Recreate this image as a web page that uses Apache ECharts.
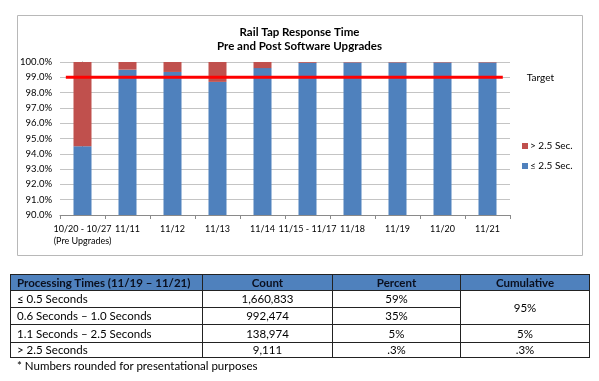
<!DOCTYPE html>
<html>
<head>
<meta charset="utf-8">
<script src="https://cdn.jsdelivr.net/npm/echarts@6/dist/echarts.min.js"></script>
<style>
  html, body { margin: 0; padding: 0; background: #fff; }
  #chart { position: absolute; left: 0; top: 0; width: 599px; height: 381px; }
  #tbl { position: absolute; left: 10px; top: 274px; width: 579px; border-collapse: collapse;
         font-family: Lato, "Open Sans", sans-serif; font-size: 11.5px; color: #000; table-layout: fixed; }
  #tbl td, #tbl th { border: 1px solid #222; padding: 0; line-height: 14px; }
  #tbl th { background: #4F81BD; font-weight: bold; color: #0a0f1e; height: 15px; text-align: center; }
  #tbl th.l, #tbl td.l { text-align: left; padding-left: 6px; }
  #tbl td { text-align: center; }
  #note { position: absolute; left: 17px; top: 359px; font-family: Lato, "Open Sans", sans-serif; font-size: 11.5px; color: #000; }
</style>
</head>
<body>
<div id="chart"></div>
<table id="tbl">
  <colgroup><col style="width:192px"><col style="width:130px"><col style="width:128px"><col style="width:129px"></colgroup>
  <thead id="thead"></thead>
  <tbody id="tbody"></tbody>
</table>
<div id="note">* Numbers rounded for presentational purposes</div>
<script>
// ---- chart data ----
const categories = ['10/20 - 10/27\n(Pre Upgrades)', '11/11', '11/12', '11/13', '11/14', '11/15 - 11/17', '11/18', '11/19', '11/20', '11/21'];
const under25 = [94.5, 99.5, 99.35, 98.7, 99.6, 99.95, 99.97, 99.97, 99.97, 99.97];
const over25 = under25.map(v => +(100 - v).toFixed(2));
const target = 99.0;
const yTicks = [90, 91, 92, 93, 94, 95, 96, 97, 98, 99, 100];

// ---- table data ----
const tableHeader = ['Processing Times (11/19 \u2013 11/21)', 'Count', 'Percent', 'Cumulative'];
const tableRanges = ['\u2264 0.5 Seconds', '0.6 Seconds \u2013 1.0 Seconds', '1.1 Seconds \u2013 2.5 Seconds', '> 2.5 Seconds'];
const tableCounts = ['1,660,833', '992,474', '138,974', '9,111'];
const tablePercents = ['59%', '35%', '5%', '.3%'];
const tableCumulative = ['95%', null, '5%', '.3%'];
const rowHeights = [17, 17, 18, 15];

// build table
const thead = document.getElementById('thead');
thead.innerHTML = '<tr>' + tableHeader.map((h, i) => `<th class="${i === 0 ? 'l' : ''}">${h}</th>`).join('') + '</tr>';
const tbody = document.getElementById('tbody');
let html = '';
tableRanges.forEach((r, i) => {
  html += `<tr style="height:${rowHeights[i]}px"><td class="l">${r}</td><td>${tableCounts[i]}</td><td>${tablePercents[i]}</td>`;
  if (i === 0) html += `<td rowspan="2">${tableCumulative[0]}</td>`;
  else if (tableCumulative[i] !== null) html += `<td>${tableCumulative[i]}</td>`;
  html += '</tr>';
});
tbody.innerHTML = html;

const FONT = 'Lato, "Open Sans", sans-serif';
const chart = echarts.init(document.getElementById('chart'), null, { renderer: 'canvas' });
chart.setOption({
  animation: false,
  textStyle: { fontFamily: FONT },
  graphic: [
    { type: 'rect', shape: { x: 17.5, y: 15.5, width: 565, height: 240 }, style: { fill: 'none', stroke: '#b8b8b8', lineWidth: 1 }, z: -10 },
    { type: 'text', left: 'center', top: 26, style: { text: 'Rail Tap Response Time', font: 'bold 11.5px ' + FONT, fill: '#000' } },
    { type: 'text', left: 'center', top: 40, style: { text: 'Pre and Post Software Upgrades', font: 'bold 11.5px ' + FONT, fill: '#000' } }
  ],
  legend: {
    orient: 'vertical', left: 517, top: 136,
    data: ['> 2.5 Sec.', '\u2264 2.5 Sec.'],
    itemWidth: 6, itemHeight: 6, itemGap: 10,
    icon: 'rect',
    textStyle: { fontSize: 10, color: '#000', fontFamily: FONT, padding: [0, 0, 0, -3] }
  },
  grid: { left: 60, top: 62, width: 450, height: 153 },
  xAxis: [{
    type: 'category', data: categories,
    axisLine: { lineStyle: { color: '#8a8a8a' } },
    axisTick: { show: true, length: 4, lineStyle: { color: '#8a8a8a' } },
    axisLabel: { color: '#000', fontSize: 9, margin: 8, interval: 0, lineHeight: 12 }
  }, {
    type: 'value', min: -0.5, max: 9.5, show: false
  }],
  yAxis: {
    type: 'value', min: yTicks[0], max: yTicks[yTicks.length - 1], interval: 1,
    axisLine: { show: true, lineStyle: { color: '#8a8a8a' } },
    axisTick: { show: true, length: 4, lineStyle: { color: '#8a8a8a' } },
    splitLine: { lineStyle: { color: '#c4c4c4' } },
    axisLabel: { color: '#000', fontSize: 9.5, margin: 8, formatter: v => v.toFixed(1) + '%' }
  },
  series: [
    { name: '\u2264 2.5 Sec.', type: 'bar', stack: 's', data: under25, barWidth: '40%', itemStyle: { color: '#4F81BD' } },
    { name: '> 2.5 Sec.', type: 'bar', stack: 's', data: over25, barWidth: '40%', itemStyle: { color: '#C0504D' } },
    {
      name: 'Target', type: 'line', xAxisIndex: 1, symbol: 'none',
      data: [[-0.37, target], [9.34, target]],
      lineStyle: { color: '#FF0000', width: 3 },
      endLabel: { show: true, distance: 24, color: '#000', fontSize: 10, fontFamily: FONT, formatter: 'Target' },
      z: 5
    }
  ]
});
</script>
</body>
</html>
